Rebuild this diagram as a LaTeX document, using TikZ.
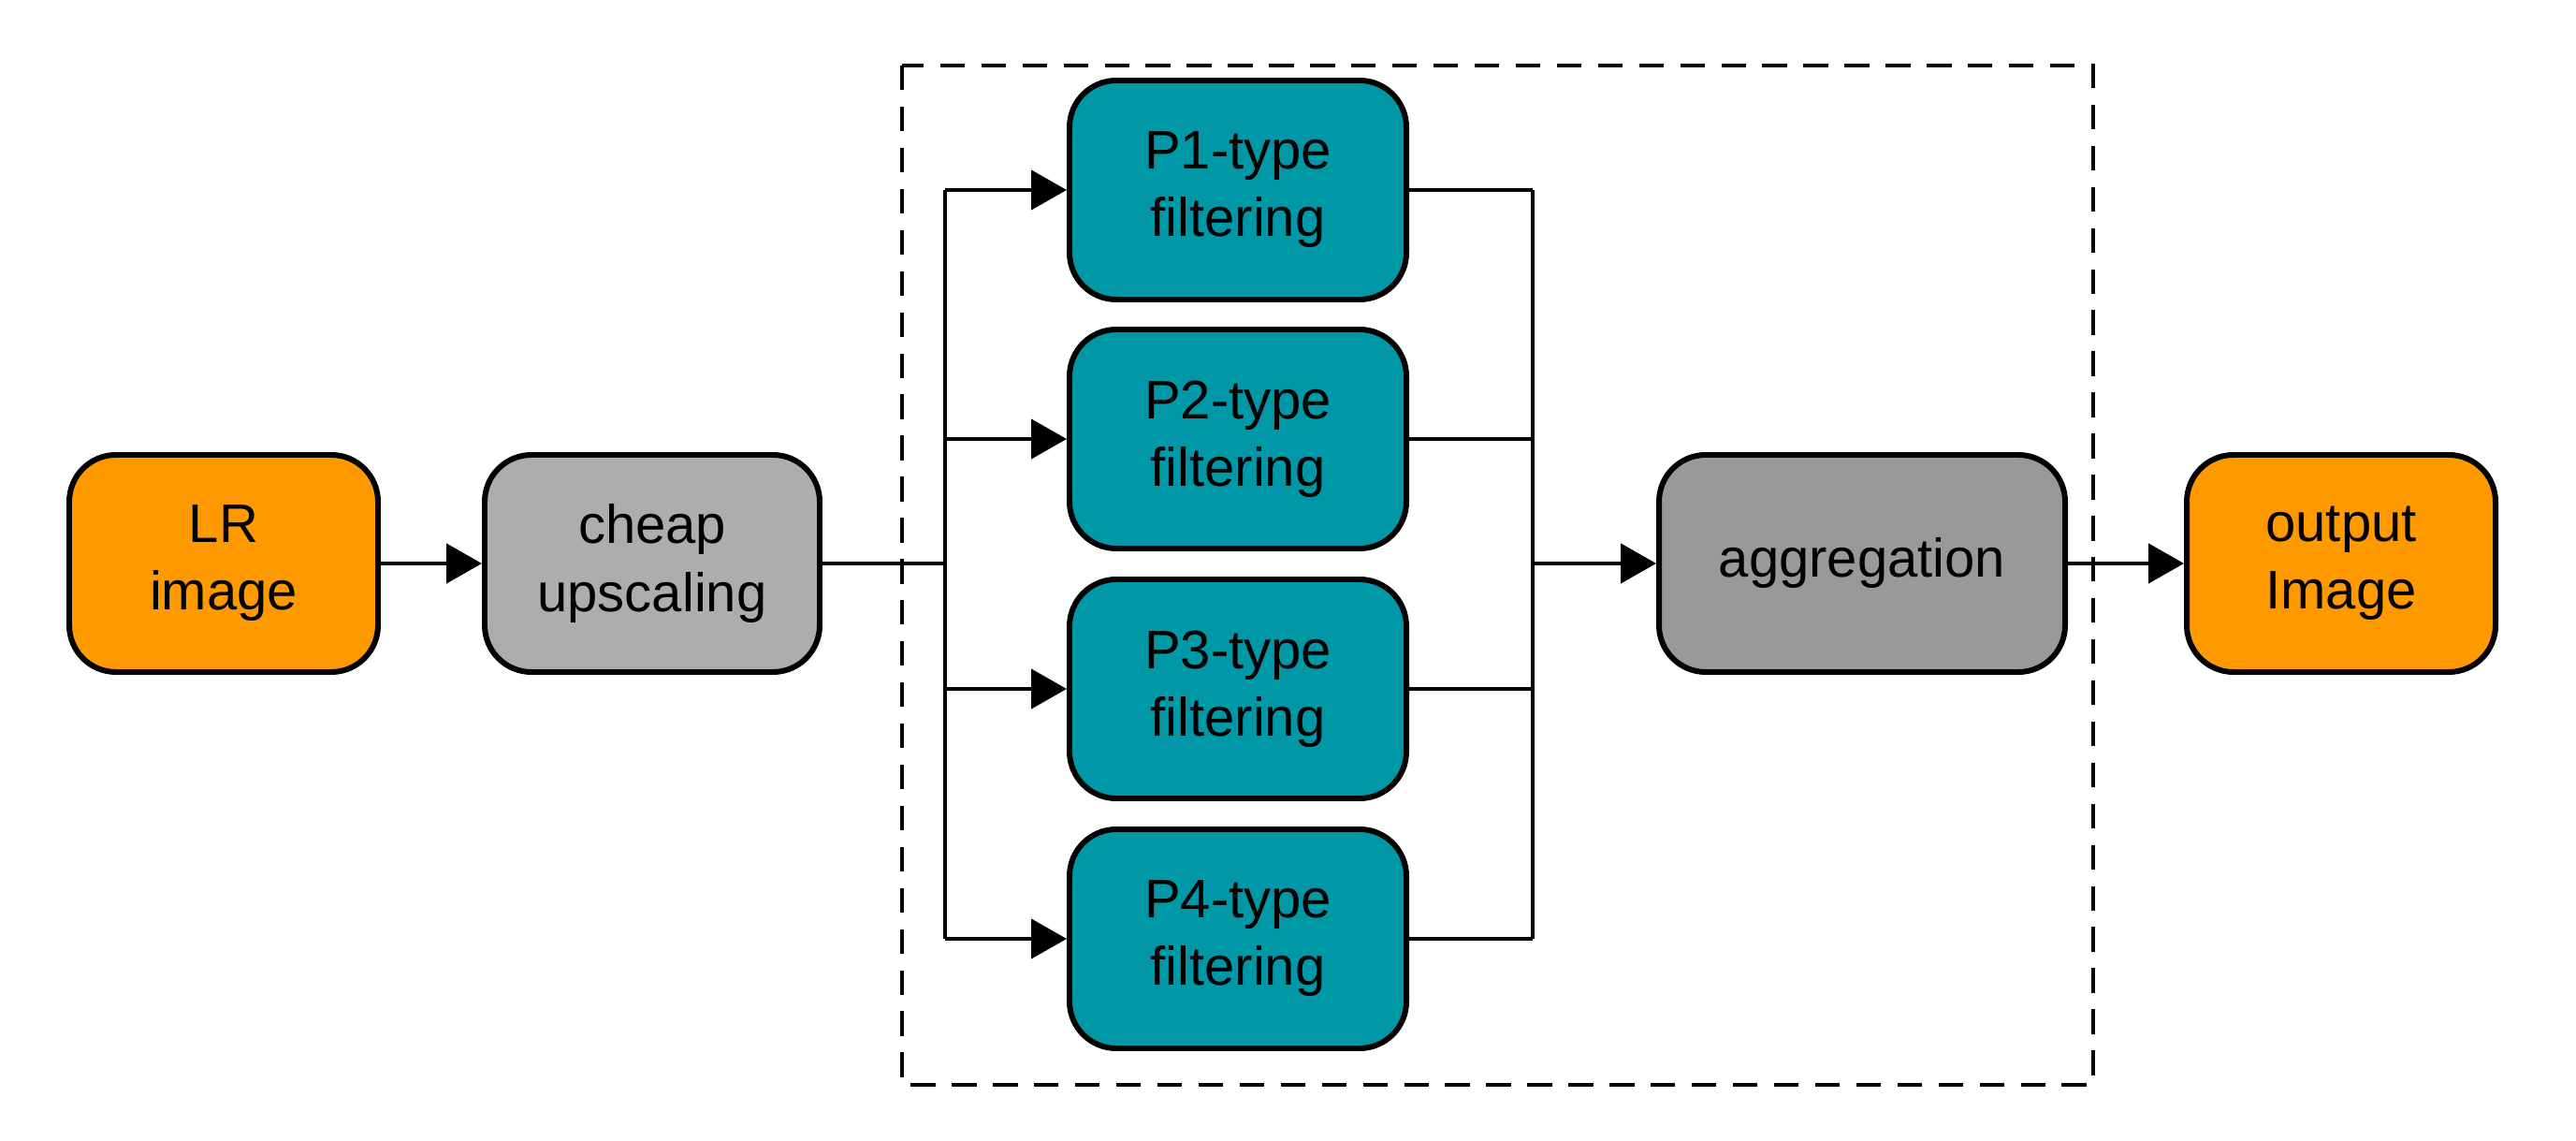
\documentclass[tikz,border=0pt]{standalone}
\usepackage{fontspec}
\setmainfont{Liberation Sans}
\usetikzlibrary{arrows.meta}

\definecolor{imgorange}{HTML}{FF9900}
\definecolor{upgray}{HTML}{ADADAD}
\definecolor{agggray}{HTML}{999999}
\definecolor{filtteal}{HTML}{0097A7}

\begin{document}
\begin{tikzpicture}[
  box/.style={draw=black, line width=1.7pt, rounded corners=0.5cm,
              minimum height=2.32cm, align=center,
              font=\fontsize{16.5}{20.5}\selectfont},
  filtbox/.style={box, fill=filtteal, minimum width=3.6cm, minimum height=2.34cm},
  wire/.style={black, line width=1.3pt},
  arr/.style={wire, -{Triangle[length=3.8mm, width=4.2mm]}}
]

% === CANVAS ===
\useasboundingbox (0,0) rectangle (27.53,-12.19);

% ============================================================
% PIPELINE BOXES
% ============================================================
\node[box, fill=imgorange, minimum width=3.3cm] (lr) at (2.39,-6.02) {LR\\image};
\node[box, fill=upgray, minimum width=3.58cm] (up) at (6.97,-6.02) {cheap\\upscaling};

% Filter bank inside the dashed frame
\draw[black, line width=1.4pt, dash pattern=on 7.5pt off 5pt] (9.64,-0.70) rectangle (22.37,-11.59);
\foreach \i/\y in {1/-2.03, 2/-4.69, 3/-7.36, 4/-10.03}
  \node[filtbox] (p\i) at (13.23,\y) {P\i-type\\filtering};

\node[box, fill=agggray, minimum width=4.34cm] (agg) at (19.90,-6.02) {aggregation};
\node[box, fill=imgorange, minimum width=3.3cm] (out) at (25.02,-6.02) {output\\Image};

% ============================================================
% CONNECTORS
% ============================================================
\coordinate (split) at (10.10,-6.02);
\coordinate (merge) at (16.38,-6.02);

\draw[arr] (lr.east) -- (up.west);
\draw[wire] (up.east) -- (split);

% split bus and merge bus
\draw[wire] (split |- p1.west) -- (split |- p4.west);
\draw[wire] (merge |- p1.east) -- (merge |- p4.east);
\foreach \i in {1,...,4} {
  \draw[arr] (split |- p\i.west) -- (p\i.west);
  \draw[wire] (p\i.east) -- (merge |- p\i.east);
}

\draw[arr] (merge) -- (agg.west);
\draw[arr] (agg.east) -- (out.west);

\end{tikzpicture}
\end{document}
